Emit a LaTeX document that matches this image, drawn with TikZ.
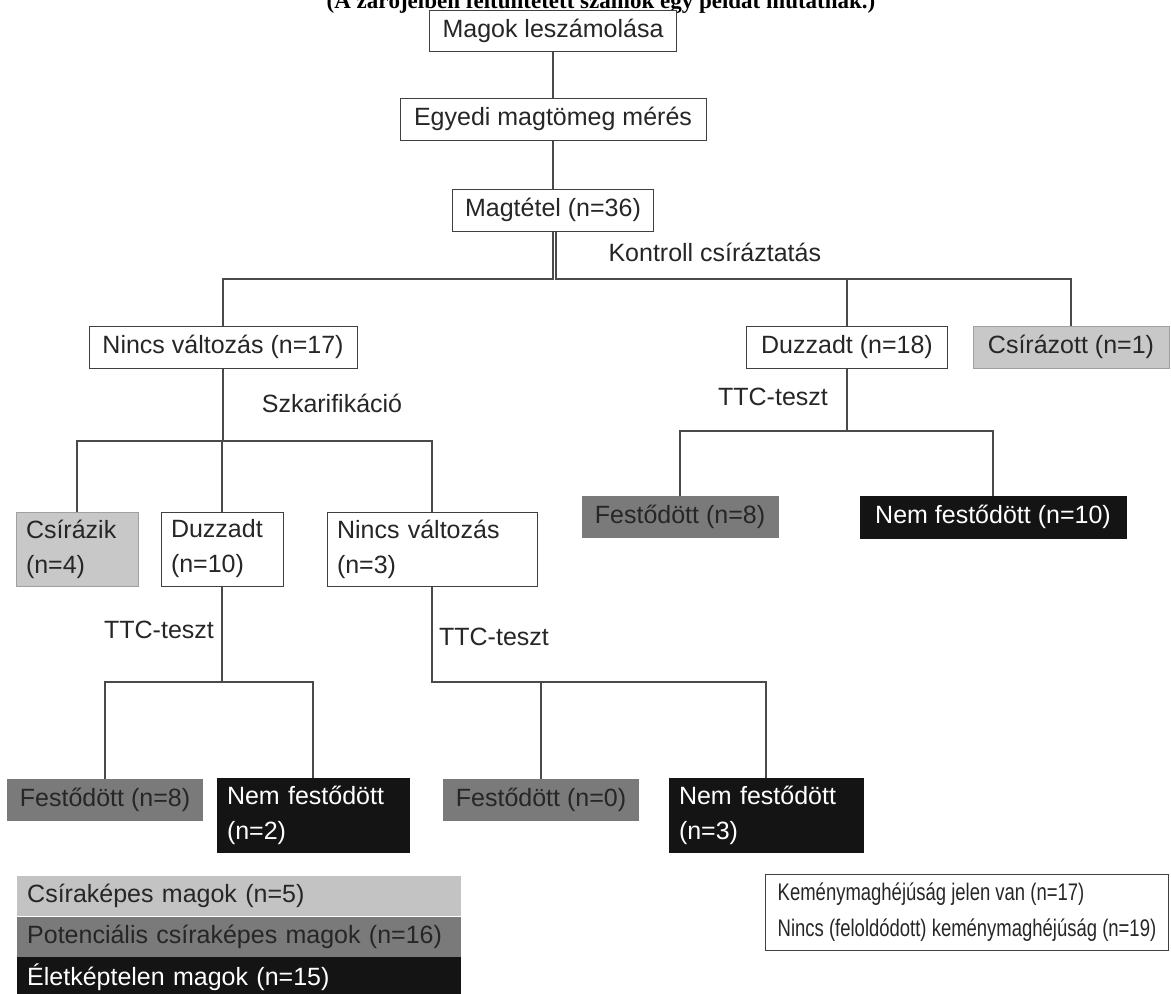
\documentclass[tikz,border=0pt]{standalone}
\usepackage{fontspec}
\setmainfont{Liberation Sans}
\newfontfamily\titlefont{Liberation Serif}
\newfontfamily\narrowfont[FakeStretch=0.77]{Liberation Sans}
\usepackage{tikz}
\usetikzlibrary{shapes,arrows,positioning}
\definecolor{lightbox}{HTML}{C8C8C8}
\definecolor{midbox}{HTML}{7A7A7A}
\definecolor{darkbox}{HTML}{141414}
\definecolor{linegrey}{HTML}{4A4A4A}

\begin{document}
\begin{tikzpicture}[x=1pt,y=-1pt,
	every node/.style={font=\fontsize{25}{35}\selectfont, text=black!85},
	box/.style={draw=black!75, line width=1pt, fill=white, inner sep=0pt, minimum height=42pt, align=center},
	twobox/.style={box, minimum height=74pt, text width=#1, align=left},
	lightfill/.style={fill=lightbox, draw=lightbox!80!black},
	midfill/.style={fill=midbox, draw=midbox},
	darkfill/.style={fill=darkbox, draw=darkbox, text=white},
	link/.style={draw=linegrey, line width=1.3pt}]
	\clip (0,0) rectangle (1171,994);
	\node[anchor=base, font=\titlefont\bfseries\fontsize{23}{26}\selectfont, text=black] (0) at (601,8) {(A zárójelben feltüntetett számok egy példát mutatnak.)};
	
	\node[box, minimum width=247pt, minimum height=41pt] (1) at (553,30.5) {Magok leszámolása};
	\node[box, minimum width=306pt] (2) at (553,119) {Egyedi magtömeg mérés};
	\node[box, minimum width=201pt] (3) at (553,210) {Magtétel (n=36)};
	\node[anchor=west] (k) at (605,252) {Kontroll csíráztatás};
	
	\node[box, minimum width=268pt] (4) at (223,347) {Nincs változás (n=17)};
	\node[box, minimum width=201pt] (5) at (847,347) {Duzzadt (n=18)};
	\node[box, lightfill, minimum width=196pt] (6) at (1071,347) {Csírázott (n=1)};
	\node (s) at (332,403) {Szkarifikáció};
	\node (t1) at (773,397) {TTC-teszt};
	
	\node[twobox=102pt, lightfill, minimum width=122pt] (7) at (77,549) {Csírázik\\(n=4)};
	\node[twobox=102pt, minimum width=122pt] (8) at (222,549) {Duzzadt\\(n=10)};
	\node[twobox=190pt, minimum width=210pt] (9) at (432,549) {Nincs változás\\(n=3)};
	\node (t2) at (159,630) {TTC-teszt};
	\node (t3) at (494,637) {TTC-teszt};
	
	\node[box, midfill, minimum width=196pt, minimum height=41pt] (14) at (680,517) {Festődött (n=8)};
	\node[box, darkfill, minimum width=266pt] (15) at (993,517) {Nem festődött (n=10)};
	
	\node[box, midfill, minimum width=195pt, minimum height=41pt] (10) at (105,799.5) {Festődött (n=8)};
	\node[twobox=172pt, darkfill, minimum width=192pt] (11) at (313,815) {Nem festődött\\(n=2)};
	\node[box, midfill, minimum width=195pt, minimum height=41pt] (12) at (541,799.5) {Festődött (n=0)};
	\node[twobox=174pt, darkfill, minimum width=194pt] (13) at (766,815) {Nem festődött\\(n=3)};
	
	% jelmagyarazat
	\node[anchor=north west, fill=lightbox!110!white, inner sep=0pt, inner xsep=10pt, minimum height=40pt, text width=424pt, align=left] (l1) at (17,876) {Csíraképes magok (n=5)};
	\node[anchor=north west, fill=midbox, inner sep=0pt, inner xsep=10pt, minimum height=40pt, text width=424pt, align=left] (l2) at (l1.south west) {Potenciális csíraképes magok (n=16)};
	\node[anchor=north west, fill=darkbox, text=white, inner sep=0pt, inner xsep=10pt, minimum height=40pt, text width=424pt, align=left] (l3) at (l2.south west) {Életképtelen magok (n=15)};
	\node[anchor=north west, draw=black!75, line width=1pt, inner sep=0pt, inner xsep=10pt, minimum height=76pt, minimum width=403pt, align=left, font=\narrowfont\fontsize{24}{36}\selectfont] (l4) at (765,874) {Keménymaghéjúság jelen van (n=17)\\Nincs (feloldódott) keménymaghéjúság (n=19)};
	
	\path [link] (1) edge (2);
	\path [link] (2) edge (3);
	\draw [link] (3.south) -- (3.south |- 0,279) -| (4.north);
	\draw [link] ([xshift=3pt]3.south) -- ([xshift=3pt]3.south |- 0,279) -| (5.north);
	\draw [link] ([xshift=3pt]3.south |- 0,279) -| (6.north);
	\draw [link] (4.south) -- (4.south |- 0,441) -| (7.north);
	\draw [link] (4.south |- 0,441) -| (8.north);
	\draw [link] (4.south |- 0,441) -| (9.north);
	\draw [link] (5.south) -- (5.south |- 0,431) -| (14.north);
	\draw [link] (5.south |- 0,431) -| (15.north);
	\draw [link] (8.south) -- (8.south |- 0,682) -| (10.north);
	\draw [link] (8.south |- 0,682) -| (11.north);
	\draw [link] (9.south) -- (9.south |- 0,682) -| (12.north);
	\draw [link] (9.south |- 0,682) -| (13.north);
\end{tikzpicture}
\end{document}
